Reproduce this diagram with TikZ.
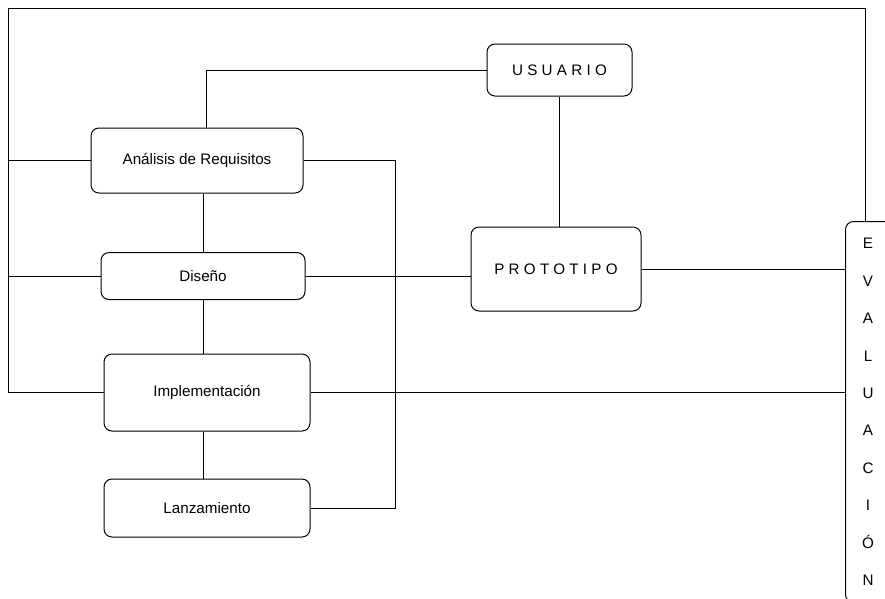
\documentclass[tikz,border=0pt]{standalone}
\usepackage{fontspec}
\setmainfont{Liberation Sans}
\newfontfamily\widefont[LetterSpace=28]{Liberation Sans}
\usepackage{tikz}
\usetikzlibrary{positioning}

\begin{document}
\begin{tikzpicture}[x=1pt, y=-1pt, node distance = 0pt,
        block/.style={rectangle, draw, rounded corners=8pt, line width=1pt, inner sep=0pt,
            text centered, font=\fontsize{15.2}{17}\selectfont},
        spaced/.style={block, font=\widefont\fontsize{15.2}{17}\selectfont},
        line/.style={draw, line width=1pt}
    ]
        \useasboundingbox (0,0) rectangle (885,598);
        % Stages
        \node[block, minimum width=212pt, minimum height=65pt] (analisis) at (197,160.5) {Análisis de Requisitos};
        \node[block, below=58.5pt of analisis, xshift=6pt, minimum width=204pt, minimum height=47pt] (diseno) {Diseño};
        \node[block, below=53.5pt of diseno, xshift=4pt, minimum width=206pt, minimum height=77pt] (implementacion) {Implementación};
        \node[block, below=47pt of implementacion, minimum width=206pt, minimum height=58pt] (lanzamiento) {Lanzamiento};
        % User and prototype
        \node[spaced, minimum width=145pt, minimum height=52pt] (usuario) at (559.5,70) {USUARIO};
        \node[spaced, minimum width=170pt, minimum height=84pt] (prototipo) at (556,269) {PROTOTIPO};
        % Evaluation (box runs off the page on the right)
        \node[block, draw=none, align=center, minimum width=44pt, minimum height=380pt,
            font=\fontsize{15.2}{37.4}\selectfont] (evaluacion) at (868,412)
            {E\\V\\A\\L\\U\\A\\C\\I\\Ó\\N};
        \path[line, rounded corners=8pt] ([xshift=30pt]evaluacion.north east) -- (evaluacion.north west)
            -- (evaluacion.south west) -- ([xshift=30pt]evaluacion.south east);
        \coordinate (topleft) at (8,8);
        % Connections
        \path[line] (analisis.south -| diseno.north) -- (diseno.north);
        \path[line] (diseno.south) -- (diseno.south |- implementacion.north);
        \path[line] (implementacion.south -| diseno.south) -- (lanzamiento.north -| diseno.south);
        \path[line] (usuario.west) -| ([xshift=9pt]analisis.north);
        \path[line] (usuario.south) -- (usuario.south |- prototipo.north);
        \path[line] (analisis.east) -- ++(92,0) |- (lanzamiento.east);
        \path[line] (diseno.east) -- (diseno.east -| prototipo.west);
        \path[line] (prototipo.east) -- (prototipo.east -| evaluacion.west);
        \path[line] (implementacion.east) -- (implementacion.east -| evaluacion.west);
        \path[line] ([xshift=-3pt]evaluacion.north) |- (topleft) |- (implementacion.west);
        \path[line] (analisis.west -| topleft) -- (analisis.west);
        \path[line] (diseno.west -| topleft) -- (diseno.west);
    \end{tikzpicture}
\end{document}
